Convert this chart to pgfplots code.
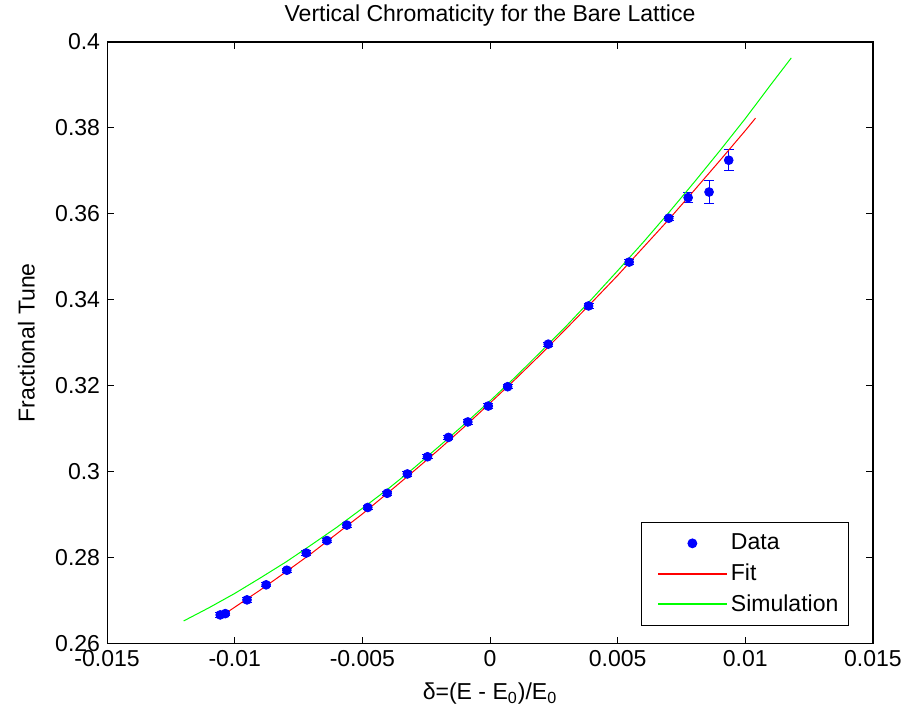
\documentclass[border=0pt]{standalone}
\usepackage{pgfplots}
\pgfplotsset{compat=1.18}
\usepackage{fontspec}
\setmainfont{Liberation Sans}
\begin{document}
\begin{tikzpicture}[font=\fontsize{11.5}{13.8}\selectfont]
\useasboundingbox (-53.5pt,-34.5pt) rectangle (401pt,321.5pt);
\begin{axis}[
  scale only axis,
  width=382.5pt, height=300.5pt,
  xmin=-0.015, xmax=0.015, ymin=0.26, ymax=0.4,
  scaled x ticks=false, scaled y ticks=false,
  xtick={-0.015,-0.01,-0.005,0,0.005,0.01,0.015},
  xticklabels={-0.015,-0.01,-0.005,0,0.005,0.01,0.015},
  ytick={0.26,0.28,0.3,0.32,0.34,0.36,0.38,0.4},
  yticklabels={0.26,0.28,0.3,0.32,0.34,0.36,0.38,0.4},
  tick pos=both,
  tick align=inside, major tick length=3.5pt,
  tick style={black, line width=0.5pt},
  axis line style={line width=0.6pt},
  title={Vertical Chromaticity for the Bare Lattice},
  every axis title shift=0pt,
  title style={at={(axis description cs:0.5,1)}, anchor=base, yshift=10.5pt, inner sep=0pt},
  xlabel={δ=(E - E\textsubscript{0})/E\textsubscript{0}},
  xlabel style={at={(axis description cs:0.5,-0.0932)}, anchor=base, inner sep=0pt},
  ylabel={Fractional Tune},
  ylabel style={at={(axis description cs:-0.0945,0.5)}, anchor=base, inner sep=0pt},
  legend style={at={(axis description cs:1,0)}, anchor=south east, xshift=-12pt, yshift=9pt,
     line width=0.5pt, inner xsep=3pt, inner ysep=3.5pt, row sep=1.5pt,
     nodes={inner sep=2pt}},
  legend cell align=left,
]
\addplot[blue, only marks, mark=*, mark size=2.2pt,
  legend image code/.code={\path (-5pt,0pt) (34pt,0pt); \fill[blue] (17pt,0pt) circle (2.2pt);},
  error bars/.cd, y dir=both, y explicit,
  error bar style={blue, line width=0.5pt},
  error mark options={rotate=90, mark size=2.5pt, blue, line width=0.5pt}]
  coordinates {
  (-0.01057,0.2667) +- (0,0.0005)
  (-0.01037,0.2670) +- (0,0.0005)
  (-0.00952,0.2702) +- (0,0.0005)
  (-0.00877,0.2737) +- (0,0.0005)
  (-0.00796,0.2771) +- (0,0.0005)
  (-0.00720,0.2811) +- (0,0.0005)
  (-0.00639,0.2840) +- (0,0.0005)
  (-0.00561,0.2876) +- (0,0.0005)
  (-0.00479,0.2917) +- (0,0.0005)
  (-0.00403,0.2950) +- (0,0.0005)
  (-0.00324,0.2995) +- (0,0.0005)
  (-0.00245,0.3035) +- (0,0.0005)
  (-0.00163,0.3080) +- (0,0.0005)
  (-0.00087,0.3116) +- (0,0.0005)
  (-0.00007,0.3153) +- (0,0.0005)
  (0.00069,0.3198) +- (0,0.0005)
  (0.00228,0.3297) +- (0,0.0005)
  (0.00386,0.3386) +- (0,0.0005)
  (0.00545,0.3488) +- (0,0.0005)
  (0.00700,0.3590) +- (0,0.0005)
  (0.00776,0.3638) +- (0,0.0012)
  (0.00858,0.3651) +- (0,0.0026)
  (0.00935,0.3725) +- (0,0.0024)
  };
\addlegendentry{Data}
\addplot[red, line width=0.5pt, mark=none,
  legend image code/.code={\path (-5pt,0pt); \fill[red] (0pt,-0.2pt) rectangle (34pt,0.2pt);}]
  coordinates {
  (-0.0106,0.2661) (-0.010,0.2685) (-0.009,0.2725) (-0.008,0.2767) (-0.007,0.2810)
  (-0.006,0.2856) (-0.005,0.2902) (-0.004,0.2951) (-0.003,0.3001) (-0.002,0.3052)
  (-0.001,0.3105) (0,0.3160) (0.001,0.3216) (0.002,0.3274) (0.003,0.3334)
  (0.004,0.3395) (0.005,0.3457) (0.006,0.3522) (0.007,0.3587) (0.008,0.3655)
  (0.009,0.3724) (0.010,0.3794) (0.0104,0.3823)
  };
\addlegendentry{Fit}
\addplot[green, line width=0.5pt, mark=none,
  legend image code/.code={\path (-5pt,0pt); \fill[green] (0pt,-0.2pt) rectangle (34pt,0.2pt);}]
  coordinates {
  (-0.012,0.2653) (-0.011,0.2684) (-0.010,0.2717) (-0.009,0.2753) (-0.008,0.2790)
  (-0.007,0.2830) (-0.006,0.2871) (-0.005,0.2915) (-0.004,0.2960) (-0.003,0.3008)
  (-0.002,0.3059) (-0.001,0.3111) (0,0.3165) (0.001,0.3221) (0.002,0.3280)
  (0.003,0.3340) (0.004,0.3403) (0.005,0.3468) (0.006,0.3534) (0.007,0.3603)
  (0.008,0.3674) (0.009,0.3747) (0.010,0.3822) (0.011,0.3901) (0.0118,0.3963)
  };
\addlegendentry{Simulation}
\end{axis}
\end{tikzpicture}
\end{document}
